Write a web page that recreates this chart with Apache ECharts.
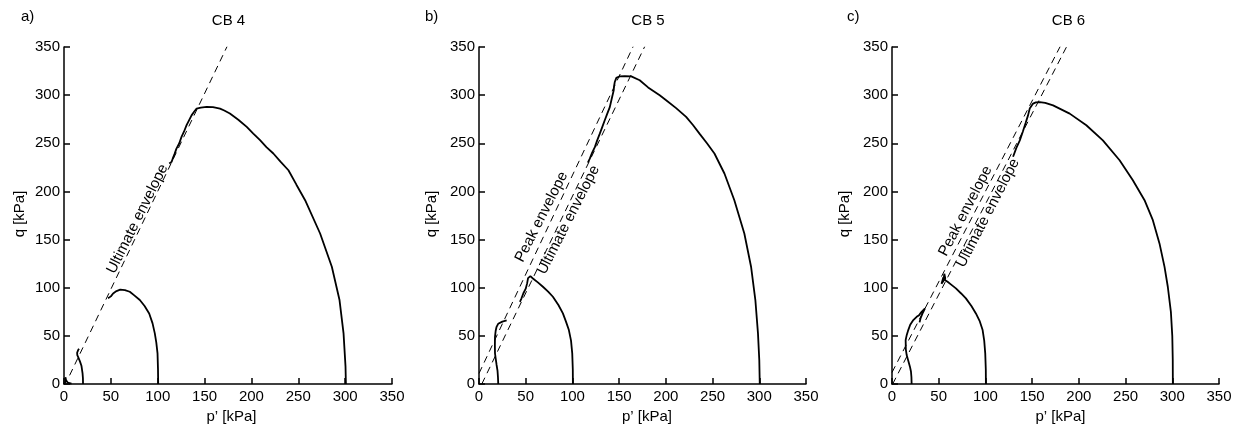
<!DOCTYPE html>
<html>
<head>
<meta charset="utf-8">
<script src="https://cdn.jsdelivr.net/npm/echarts@6/dist/echarts.min.js"></script>
<style>
html,body{margin:0;padding:0;background:#fff;}
#c{width:1240px;height:432px;}
</style>
</head>
<body>
<div id="c"></div>
<script>
// ---------- DATA ----------
const ticks = [0, 50, 100, 150, 200, 250, 300, 350];
const panelTitles = ['CB 4', 'CB 5', 'CB 6'];
const panelLetters = ['a)', 'b)', 'c)'];

// CB 4
const cb4Origin = [[0.5,0],[1.5,0],[1.8,3],[1.5,7],[2.2,4],[4,1.5],[8,0.5]];
const cb4Tiny = [[20.3,0],[20.2,6],[19.8,11],[18.6,19],[17,23.5],[15.7,26.6],[14.2,30],[14,32.5],[15,35],[16,36.5]];
const cb4Small = [[100.5,0],[100.3,15],[99.8,31.8],[98.5,43],[96.9,52.6],[94.5,63],[90.9,73.3],[86,81],[80.9,87.2],[75,92],[70.2,95.8],[65,97.5],[60,98],[56,96.5],[52.4,94],[50,91],[47,89]];
const cb4Large = [[300.8,0],[300.4,18],[298.3,52.6],[294,87.2],[285.8,121.8],[273.3,156.3],[257.3,190.9],[248,207],[239.5,222],[231,231],[223.4,239.4],[216,246],[209.2,253.2],[202,260],[195,267],[186,274.5],[177,281],[171,284],[166.5,286],[159,287.5],[152.2,287.8],[146,287],[141.5,286],[139,283],[136.1,279],[133,273],[130.8,268.8],[128,262],[125.4,256.7],[123,250],[120,244.5],[118,239],[116,234],[114.8,230.7],[112.3,229]];
const cb4Ultimate = [[6,9],[174,350.5]];

// CB 5
const cb5Tiny = [[20.6,0],[20.3,7],[19.8,14],[18.8,20],[17.8,27],[17.1,32],[17,40],[17.1,49],[17.8,55],[18.8,59.4],[20.5,62.5],[22.4,64],[25,64.8],[29.6,66]];
const cb5Small = [[100.5,0],[100.4,15],[99.8,31.8],[98.5,45],[96.2,56],[93,65],[89.8,73.3],[85,82],[79.1,90.6],[74,96],[68.4,101],[63,105.5],[57.7,109.6],[55,112],[53.5,112.5],[52.5,110],[51.5,104.5],[50,99],[47.4,94],[45.5,89],[43.8,85.4]];
const cb5Large = [[300.5,0],[300,25],[298.6,52.6],[295.8,87.2],[291.2,121.8],[284,156.3],[273.3,190.9],[262.7,218.6],[252,239.4],[244,250],[236,260],[229,269],[221.7,277.4],[211,286.5],[200.3,294.7],[193.4,299.8],[181,308],[172,315.5],[163,319.5],[156,319.8],[150.6,319.5],[147,318],[145.3,313.6],[144.5,309],[144.2,305],[142,296],[140,287.6],[137,280],[134.6,273.9],[132,267],[129.3,260],[126.5,253],[124,246],[121,240],[118.6,234],[116.5,230]];
const cb5Peak = [[0,11],[165,350.5]];
const cb5Ultimate = [[3,0],[177.4,350.5]];

// CB 6
const cb6Tiny = [[21,0],[20.8,7],[20.3,13],[19.2,18],[17.5,24],[15.7,30],[14.8,36],[14.6,45.6],[15.8,51],[17.4,56],[19.5,61.5],[22.8,66.4],[26.4,69.8],[29,71.5],[31.7,75],[35.3,78.5],[33,74],[30.5,68],[29.5,64]];
const cb6Small = [[100.5,0],[100.4,15],[99.8,31.8],[98.7,45],[97,56],[94,65],[89.8,73.3],[85,81],[79.1,88.9],[74,94],[68.4,99.3],[63,103.5],[59.5,106.2],[56.6,108],[55,111],[54.2,113],[53.5,109],[53,104],[55,107],[56,114.5],[57,110],[56.6,108]];
const cb6Large = [[300.6,0],[300.5,25],[300,50],[298.5,75],[295.2,101],[291.7,121.7],[286.3,146],[279.2,170.1],[270.3,190.9],[257.8,211.6],[243.6,232.4],[225.7,253.1],[208,268.7],[190.2,280.8],[172.4,289.4],[164,292],[158.1,292.8],[154,292.5],[151,291.2],[147.4,286],[145.6,279],[143,271],[140,262],[136.8,253],[133,245],[129.6,236]];
const cb6Peak = [[0,12],[180,350.5]];
const cb6Ultimate = [[0.7,0],[187,350.5]];

// ---------- LAYOUT ----------
const FONT = '"Liberation Sans", Arial, sans-serif';
const FS = 15;
const grids = [
  {left: 64, top: 47, width: 328, height: 337},
  {left: 479, top: 47, width: 327, height: 337},
  {left: 892, top: 47, width: 327, height: 337}
];
const panels = [
  {curves: [cb4Origin, cb4Tiny, cb4Small, cb4Large], envs: [cb4Ultimate]},
  {curves: [cb5Tiny, cb5Small, cb5Large], envs: [cb5Peak, cb5Ultimate]},
  {curves: [cb6Tiny, cb6Small, cb6Large], envs: [cb6Peak, cb6Ultimate]}
];

const axisCommon = {
  type: 'value', min: ticks[0], max: ticks[ticks.length-1], interval: 50,
  splitLine: {show: false},
  axisLine: {show: true, onZero: false, lineStyle: {color: '#000', width: 1.5}},
  axisTick: {show: true, inside: true, length: 6, lineStyle: {color: '#000', width: 1.5}},
  axisLabel: {color: '#000', fontSize: FS, fontFamily: FONT}
};

const xAxis = [], yAxis = [], series = [];
grids.forEach((g, i) => {
  xAxis.push(Object.assign({}, axisCommon, {gridIndex: i, axisLabel: Object.assign({}, axisCommon.axisLabel, {margin: 5})}));
  yAxis.push(Object.assign({}, axisCommon, {gridIndex: i, axisLabel: Object.assign({}, axisCommon.axisLabel, {margin: 4})}));
  panels[i].curves.forEach(c => series.push({
    type: 'line', xAxisIndex: i, yAxisIndex: i, data: c, showSymbol: false, symbol: 'none',
    lineStyle: {color: '#000', width: 1.8}, silent: true
  }));
  panels[i].envs.forEach(e => series.push({
    type: 'line', xAxisIndex: i, yAxisIndex: i, data: e, showSymbol: false, symbol: 'none',
    lineStyle: {color: '#000', width: 1, type: [7, 5]}, silent: true
  }));
});

function txt(s, x, y, opts, align) {
  return Object.assign({
    type: 'text', x: x, y: y,
    style: {text: s, fill: '#000', font: FS + 'px ' + FONT, textAlign: align || 'center', textVerticalAlign: 'middle'}
  }, opts || {});
}
const deg = Math.PI / 180;
const graphic = [
  txt(panelTitles[0], 228.5, 20.5), txt(panelTitles[1], 648, 20.5), txt(panelTitles[2], 1068.5, 20.5),
  txt(panelLetters[0], 21, 17, null, 'left'),
  txt(panelLetters[1], 425, 17, null, 'left'),
  txt(panelLetters[2], 847, 17, null, 'left'),
  txt('q [kPa]', 20, 214, {rotation: 90 * deg}),
  txt('q [kPa]', 431.5, 214, {rotation: 90 * deg}),
  txt('q [kPa]', 844.5, 214, {rotation: 90 * deg}),
  txt('p’ [kPa]', 231.5, 416.5),
  txt('p’ [kPa]', 647, 416.5),
  txt('p’ [kPa]', 1060.5, 416.5),
  txt('Ultimate envelope', 137.5, 219, {rotation: 63.5 * deg}),
  txt('Peak envelope', 541.5, 217, {rotation: 63 * deg}),
  txt('Ultimate envelope', 568.5, 220, {rotation: 63 * deg}),
  txt('Peak envelope', 965.5, 211, {rotation: 62.5 * deg}),
  txt('Ultimate envelope', 988, 213, {rotation: 62.5 * deg})
];

const chart = echarts.init(document.getElementById('c'), null, {renderer: 'canvas'});
chart.setOption({
  animation: false,
  backgroundColor: '#fff',
  grid: grids,
  xAxis: xAxis,
  yAxis: yAxis,
  series: series,
  graphic: graphic
});
</script>
</body>
</html>
